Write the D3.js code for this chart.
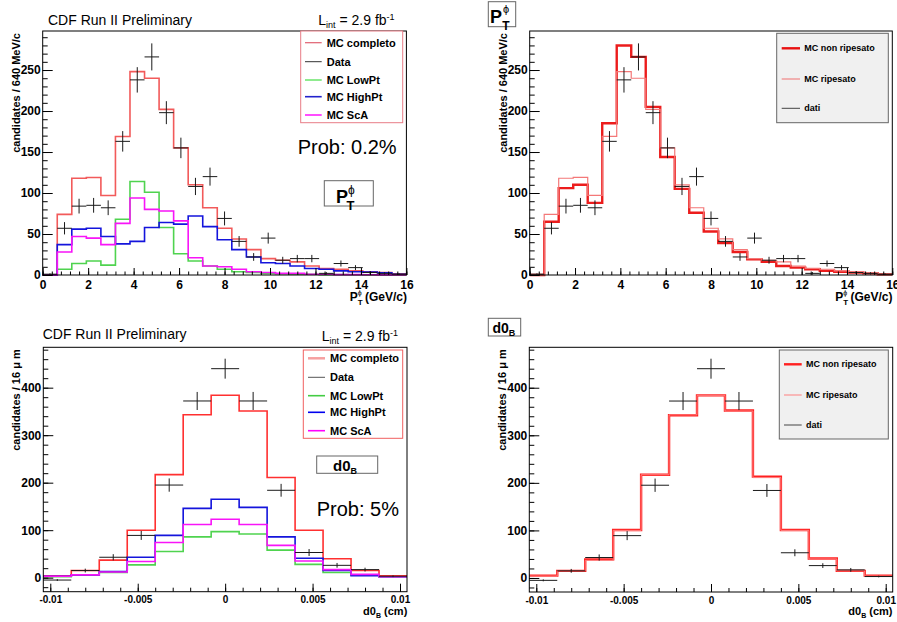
<!DOCTYPE html>
<html><head><meta charset="utf-8">
<script src="https://cdn.jsdelivr.net/npm/d3@7"></script>
<style>
body{margin:0;background:#fff}
svg{display:block}
text{font-family:"Liberation Sans",Arial,Helvetica,sans-serif}
</style>
</head><body>
<svg id="c" width="897" height="622"></svg>
<script>
// ---------- DATA ----------
const ptEdges = [0,0.64,1.28,1.92,2.56,3.2,3.84,4.48,5.12,5.76,6.4,7.04,7.68,8.32,8.96,9.6,10.24,10.88,11.52,12.16,12.8,13.44,14.08,14.72,15.36,16];
const ptMCcompleto = [0,74,118,119,97,169,248,240,202,155,110,82,57,44,31,20,18,16,11,8,7,5,4,3,1.5];
const ptLowPt      = [0,7,14,17,12,68,114,101,58,26,17,11,7,4,3,2,1.5,1,1,0.5,0.5,0.3,0.2,0.2,0.1];
const ptHighPt     = [0,37,56,57,47,38,41,58,64,62,72,59,43,31,22,15,14,11,8,7,5,4,3.5,2.7,1];
const ptScA        = [0,28,47,45,37,63,94,80,78,66,21,11,10,7,4,3,2,2,1,1,0.5,0.5,0.3,0.2,0.1];
const ptNonRipesato= [0,65,106,110,88,185,280,266,205,144,105,76,53,39,28,19,16,11,9,7,5,4,3,2,1];
const ptData       = [1,57,84,85,82,163,238,266,198,155,108,120,69,41,22,45,18,20,20,2,14,9,3,2,1];
const ptDataErr    = [1,7.5,9,9,9,12.5,15.5,16.5,14,12.5,10.5,11,8.5,6.5,4.7,6.7,4.2,4.5,4.5,1.5,3.7,3,1.7,1.4,1];

const d0Edges = [-0.0104,-0.0088,-0.0072,-0.0056,-0.004,-0.0024,-0.0008,0.0008,0.0024,0.004,0.0056,0.0072,0.0088,0.0104];
const d0MCcompleto  = [4,15,37,100,217,343,384,351,211,100,40,15,4];
const d0LowPt       = [2,5,11,27,55,86,97,92,58,28,11,5,2];
const d0HighPt      = [3,6,13,43,89,146,165,148,86,41,15,4,2];
const d0ScA         = [3,6,12,34,74,112,123,112,68,35,17,7,2];
const d0NonRipesato = [5,15,39,101,217,342,384,352,213,101,41,15,5];
const d0Data        = [-5,15,43,89,195,372,440,372,184,53,26,17,3];
const d0DataErr     = [2,4,6.5,9.5,14,19,21,19,13.5,7.3,5,4,1.7];

const ptTicks = [0,2,4,6,8,10,12,14,16];
const ptTickLabels = ["0","2","4","6","8","10","12","14","16"];
const ptYTicks = [0,50,100,150,200,250];
const ptYTickLabels = ["0","50","100","150","200","250"];
const d0Ticks = [-0.01,-0.005,0,0.005,0.01];
const d0TickLabels = ["-0.01","-0.005","0","0.005","0.01"];
const d0YTicks = [0,100,200,300,400];
const d0YTickLabels = ["0","100","200","300","400"];

const legendLeft = ["MC completo","Data","MC LowPt","MC HighPt","MC ScA"];
const legendRight = ["MC non ripesato","MC ripesato","dati"];

// ---------- DRAW ----------
const svg = d3.select("#c");
const PHI = "\u03d5";

function makePanel(f, xDom, yDom) {
  const xs = d3.scaleLinear().domain(xDom).range([f.x0, f.x1]);
  const ys = d3.scaleLinear().domain(yDom).range([f.y1, f.y0]);
  return {xs, ys, f};
}

function hist(P, edges, vals, color, w) {
  const pts = edges.map((e,i)=>[e, vals[Math.min(i, vals.length-1)]]);
  const line = d3.line().x(d=>P.xs(d[0])).y(d=>P.ys(d[1])).curve(d3.curveStepAfter);
  svg.append("path").attr("d", line(pts)).attr("fill","none")
    .attr("stroke", color).attr("stroke-width", w).attr("stroke-linejoin","miter");
}

function dataPts(P, edges, vals, errs) {
  const g = svg.append("g").attr("stroke","#1a1a1a").attr("stroke-width",1);
  vals.forEach((v,i)=>{
    const lo = edges[i], hi = edges[i+1], c = (lo+hi)/2;
    g.append("line").attr("x1",P.xs(lo)).attr("x2",P.xs(hi)).attr("y1",P.ys(v)).attr("y2",P.ys(v));
    g.append("line").attr("x1",P.xs(c)).attr("x2",P.xs(c)).attr("y1",P.ys(v-errs[i])).attr("y2",P.ys(v+errs[i]));
  });
}

function axes(P, o) {
  const f = P.f;
  const gy = svg.append("g").attr("transform",`translate(${f.x0},0)`)
    .call(d3.axisLeft(P.ys).tickValues(o.yT).tickSize(-10).tickPadding(2).tickFormat((d,i)=>o.yL[i]));
  const gym = svg.append("g").attr("transform",`translate(${f.x0},0)`)
    .call(d3.axisLeft(P.ys).tickValues(o.yMinor).tickSize(-5).tickFormat(""));
  const gx = svg.append("g").attr("transform",`translate(0,${f.y1})`)
    .call(d3.axisBottom(P.xs).tickValues(o.xT).tickSize(-o.xTick).tickPadding(o.xPad).tickFormat((d,i)=>o.xL[i]));
  const gxm = svg.append("g").attr("transform",`translate(0,${f.y1})`)
    .call(d3.axisBottom(P.xs).tickValues(o.xMinor).tickSize(-o.xTick/2).tickFormat(""));
  [gy,gym,gx,gxm].forEach(g=>{ g.select(".domain").remove(); g.selectAll("line").attr("stroke","#000"); });
  gy.selectAll("text").attr("font-family","Liberation Sans, Arial, sans-serif").attr("font-weight","bold").attr("font-size",12).attr("fill","#000");
  gx.selectAll("text").attr("font-family","Liberation Sans, Arial, sans-serif").attr("font-weight","bold").attr("font-size",o.xFont).attr("fill","#000");
  svg.append("rect").attr("x",f.x0).attr("y",f.y0).attr("width",f.x1-f.x0).attr("height",f.y1-f.y0)
    .attr("fill","none").attr("stroke","#000").attr("stroke-width",1);
}

function rich(x, y, parts, anchor) {
  const t = svg.append("text").attr("x",x).attr("y",y).attr("text-anchor",anchor||"start").attr("fill","#000");
  parts.forEach(p=>{
    const s = t.append("tspan").text(p.t).attr("font-size",p.s);
    if (p.b) s.attr("font-weight","bold");
    if (p.dy) s.attr("dy",p.dy);
    if (p.dx) s.attr("dx",p.dx);
  });
  return t;
}

function yTitle(x, y, parts) {
  const t = svg.append("text").attr("transform",`translate(${x},${y}) rotate(-90)`).attr("text-anchor","end")
    .attr("font-weight","bold").attr("font-size",11).attr("fill","#000");
  parts.forEach(p=>{ t.append("tspan").text(p); });
}

function legend(box, entries, styles, o) {
  svg.append("rect").attr("x",box.x).attr("y",box.y).attr("width",box.w).attr("height",box.h)
    .attr("fill",o.fill).attr("stroke",o.stroke).attr("stroke-width",1);
  entries.forEach((e,i)=>{
    const yy = o.ys[i];
    svg.append("line").attr("x1",o.lx0).attr("x2",o.lx1).attr("y1",yy).attr("y2",yy)
      .attr("stroke",styles[i].c).attr("stroke-width",styles[i].w);
    svg.append("text").attr("x",o.tx).attr("y",yy).attr("dy","0.35em").attr("font-weight","bold")
      .attr("font-size",o.fs).attr("fill","#000").text(e);
  });
}

const ptMinorX = d3.range(0, 16.001, 0.4);
const ptMinorY = d3.range(0, 296, 10);
const d0MinorX = d3.range(-0.01, 0.01001, 0.001);
const d0MinorY = d3.range(-20, 485, 20);

const cRedL = "#f25a5a", cGreen = "#4fd34f", cBlue = "#1414dc", cMag = "#f814f8";

// ---- Top-left ----
const TL = makePanel({x0:42.7,x1:406.4,y0:31,y1:275},[0,16],[0,297.6]);
hist(TL, ptEdges, ptMCcompleto, cRedL, 1.6);
hist(TL, ptEdges, ptLowPt, cGreen, 1.6);
hist(TL, ptEdges, ptHighPt, cBlue, 1.6);
hist(TL, ptEdges, ptScA, cMag, 1.6);
dataPts(TL, ptEdges, ptData, ptDataErr);
axes(TL,{yT:ptYTicks,yL:ptYTickLabels,yMinor:ptMinorY,xT:ptTicks,xL:ptTickLabels,xMinor:ptMinorX,xTick:7,xPad:5,xFont:12});

// ---- Top-right ----
const TR = makePanel({x0:529.7,x1:892.3,y0:31,y1:275},[0,16],[0,297.6]);
hist(TR, ptEdges, ptNonRipesato, "#ec1c1c", 2.4);
hist(TR, ptEdges, ptMCcompleto, "#f47878", 1.2);
dataPts(TR, ptEdges, ptData, ptDataErr);
axes(TR,{yT:ptYTicks,yL:ptYTickLabels,yMinor:ptMinorY,xT:ptTicks,xL:ptTickLabels,xMinor:ptMinorX,xTick:7,xPad:5,xFont:12});

// ---- Bottom-left ----
const BL = makePanel({x0:43.3,x1:407,y0:347.3,y1:591.7},[-0.0104,0.0104],[-29.5,485]);
hist(BL, d0Edges, d0MCcompleto, "#ff3030", 1.6);
hist(BL, d0Edges, d0LowPt, cGreen, 1.6);
hist(BL, d0Edges, d0HighPt, cBlue, 1.6);
hist(BL, d0Edges, d0ScA, cMag, 1.6);
dataPts(BL, d0Edges, d0Data, d0DataErr);
axes(BL,{yT:d0YTicks,yL:d0YTickLabels,yMinor:d0MinorY,xT:d0Ticks,xL:d0TickLabels,xMinor:d0MinorX,xTick:8,xPad:4.5,xFont:10});

// ---- Bottom-right ----
const BR = makePanel({x0:529.3,x1:892.7,y0:347.3,y1:592},[-0.0104,0.0104],[-29.5,485]);
hist(BR, d0Edges, d0NonRipesato, "#ff2020", 2.4);
hist(BR, d0Edges, d0MCcompleto, "#ff8080", 1);
dataPts(BR, d0Edges, d0Data, d0DataErr);
axes(BR,{yT:d0YTicks,yL:d0YTickLabels,yMinor:d0MinorY,xT:d0Ticks,xL:d0TickLabels,xMinor:d0MinorX,xTick:8,xPad:4.5,xFont:10});

// ---- Titles / labels ----
rich(48, 25, [{t:"CDF Run II Preliminary", s:14}]);
rich(42.7, 338.5, [{t:"CDF Run II Preliminary", s:14}]);
[[318.3,25],[321.7,341]].forEach(([x,y])=>{
  rich(x, y, [{t:"L",s:14},{t:"int",s:9,dy:3},{t:" = 2.9 fb",s:14,dy:-3},{t:"-1",s:9,dy:-5}]);
});

yTitle(20, 33, ["candidates / 640 MeV/c"]);
yTitle(506.5, 33, ["candidates / 640 MeV/c"]);
yTitle(19.5, 349.3, ["candidates / 16 \u03bc m"]);
yTitle(506, 349.3, ["candidates / 16 \u03bc m"]);

[407, 892.5].forEach(x=>{
  rich(x, 301, [{t:"P",s:12,b:1},{t:"T",s:8,b:1,dy:3.5},{t:PHI,s:7,dx:-5,dy:-10},{t:" (GeV/c)",s:12,b:1,dy:6.5}], "end");
});
[407.3, 892.5].forEach(x=>{
  rich(x, 615, [{t:"d0",s:11,b:1},{t:"B",s:7,b:1,dy:3},{t:" (cm)",s:11,b:1,dy:-3}], "end");
});

rich(297.7, 154, [{t:"Prob: 0.2%", s:20}]);
rich(316.7, 516, [{t:"Prob: 5%", s:20}]);

// P_T boxes
svg.append("rect").attr("x",324.3).attr("y",180.7).attr("width",49).attr("height",25.3).attr("fill","#fff").attr("stroke","#666");
rich(336, 203.3, [{t:"P",s:18,b:1}]);
rich(346.5, 210, [{t:"T",s:13,b:1}]);
rich(348, 194, [{t:PHI,s:12}]);
svg.append("rect").attr("x",488.3).attr("y",1.7).attr("width",27.4).attr("height",25).attr("fill","#fff").attr("stroke","#666");
rich(490, 23.3, [{t:"P",s:18,b:1}]);
rich(502.3, 29.5, [{t:"T",s:12,b:1}]);
rich(503, 12.5, [{t:PHI,s:11}]);

// d0_B boxes
svg.append("rect").attr("x",316.7).attr("y",456).attr("width",61).attr("height",17.3).attr("fill","#fff").attr("stroke","#666");
rich(333, 471, [{t:"d0",s:15,b:1},{t:"B",s:9,b:1,dy:3}]);
svg.append("rect").attr("x",488.3).attr("y",318.3).attr("width",32.4).attr("height",17.7).attr("fill","#fff").attr("stroke","#666");
rich(492.5, 332.5, [{t:"d0",s:14,b:1},{t:"B",s:9,b:1,dy:3}]);

// Legends
legend({x:300.7,y:31,w:102,h:91.7}, legendLeft,
  [{c:"#e06070",w:1.2},{c:"#333",w:1},{c:"#44dd44",w:1.2},{c:"#2222cc",w:1.6},{c:"#ff22ff",w:1.6}],
  {fill:"#fff",stroke:"#e87c86",ys:[42.7,61.7,80,96.7,115],lx0:305,lx1:321.7,tx:326.7,fs:11});
legend({x:303.3,y:350,w:99.4,h:88.3}, legendLeft,
  [{c:"#f6a0a0",w:2.5},{c:"#555",w:1},{c:"#44cc44",w:1.6},{c:"#0000ee",w:1.6},{c:"#ff00ff",w:1.6}],
  {fill:"#fff",stroke:"#f06060",ys:[358.3,377.3,395.7,412.3,430.7],lx0:308,lx1:325,tx:330,fs:11});
legend({x:776.7,y:33.3,w:111.6,h:89.4}, legendRight,
  [{c:"#e81010",w:2.4},{c:"#f07070",w:1},{c:"#444",w:1}],
  {fill:"#f0f0f0",stroke:"#666",ys:[48.3,79,108.3],lx0:781.7,lx1:800,tx:804.3,fs:9});
legend({x:779.3,y:350,w:109,h:89}, legendRight,
  [{c:"#ff2020",w:2.4},{c:"#ff8080",w:1},{c:"#444",w:1}],
  {fill:"#f0f0f0",stroke:"#666",ys:[364.3,395,425],lx0:784,lx1:801.7,tx:806,fs:9});
</script>
</body></html>
